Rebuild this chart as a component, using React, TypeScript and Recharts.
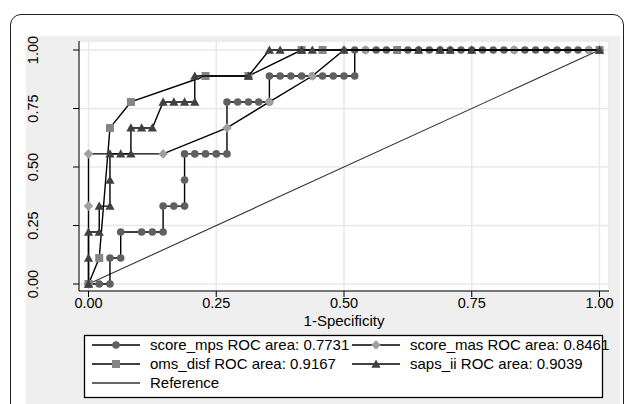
import React from 'react';
import { ScatterChart, Scatter, XAxis, YAxis, CartesianGrid } from 'recharts';

// [1-specificity, sensitivity] pairs per classifier
const mpsPoints = [
  [0, 0], [0.021, 0], [0.042, 0], [0.042, 0.111], [0.063, 0.111], [0.063, 0.222],
  [0.104, 0.222], [0.125, 0.222], [0.146, 0.222], [0.146, 0.333], [0.167, 0.333],
  [0.188, 0.333], [0.188, 0.444], [0.188, 0.556], [0.208, 0.556], [0.229, 0.556],
  [0.25, 0.556], [0.271, 0.556], [0.271, 0.778], [0.292, 0.778], [0.313, 0.778],
  [0.333, 0.778], [0.354, 0.778], [0.354, 0.889], [0.375, 0.889], [0.396, 0.889],
  [0.417, 0.889], [0.438, 0.889], [0.458, 0.889], [0.479, 0.889], [0.5, 0.889],
  [0.521, 0.889], [0.521, 1], [0.542, 1], [0.563, 1], [0.583, 1], [0.604, 1],
  [0.625, 1], [0.646, 1], [0.667, 1], [0.688, 1], [0.708, 1], [0.729, 1], [0.75, 1],
  [0.771, 1], [0.792, 1], [0.813, 1], [0.833, 1], [0.854, 1], [0.875, 1], [0.896, 1],
  [0.917, 1], [0.938, 1], [0.958, 1], [0.979, 1], [1, 1],
];

const masPoints = [
  [0, 0], [0, 0.333], [0, 0.556], [0.146, 0.556], [0.271, 0.667], [0.354, 0.778],
  [0.438, 0.889], [0.5, 1], [0.542, 1], [0.833, 1], [0.979, 1], [1, 1],
];

const omsPoints = [
  [0, 0], [0.021, 0.111], [0.042, 0.667], [0.083, 0.778], [0.229, 0.889],
  [0.313, 0.889], [0.417, 1], [0.458, 1], [0.604, 1], [1, 1],
];

const sapsPoints = [
  [0, 0], [0, 0.111], [0, 0.222], [0.021, 0.222], [0.021, 0.333], [0.042, 0.333],
  [0.042, 0.444], [0.042, 0.556], [0.063, 0.556], [0.083, 0.556], [0.083, 0.667],
  [0.104, 0.667], [0.125, 0.667], [0.146, 0.778], [0.167, 0.778], [0.188, 0.778],
  [0.208, 0.778], [0.208, 0.889], [0.313, 0.889], [0.354, 1], [0.375, 1], [0.417, 1],
  [0.438, 1], [0.5, 1], [0.646, 1], [0.688, 1], [0.708, 1], [0.75, 1], [1, 1],
];

const referencePoints = [[0, 0], [1, 1]];

const axisTicks = [0, 0.25, 0.5, 0.75, 1];
const tickLabels = ['0.00', '0.25', '0.50', '0.75', '1.00'];

const legendLabels = [
  'score_mps ROC area: 0.7731',
  'score_mas ROC area: 0.8461',
  'oms_disf ROC area: 0.9167',
  'saps_ii ROC area: 0.9039',
  'Reference',
];

const toXY = (pts: number[][]) => pts.map(([x, y]) => ({ x, y }));

const FONT = '"Liberation Sans", Arial, Helvetica, sans-serif';

const COLORS = {
  mps: '#606060',
  mas: '#a0a0a0',
  oms: '#858585',
  saps: '#404040',
};

type Kind = 'circle' | 'diamond' | 'square' | 'triangle';

const marker = (kind: Kind, cx: number, cy: number, fill: string, key?: string) => {
  if (kind === 'circle') return <circle key={key} cx={cx} cy={cy} r={3.8} fill={fill} />;
  if (kind === 'diamond') {
    const r = 4.8;
    return <polygon key={key} points={`${cx},${cy - r} ${cx + r},${cy} ${cx},${cy + r} ${cx - r},${cy}`} fill={fill} />;
  }
  if (kind === 'square') return <rect key={key} x={cx - 4} y={cy - 4} width={8} height={8} fill={fill} />;
  const s = 4.6;
  return <polygon key={key} points={`${cx},${cy - s} ${cx + s},${cy + s * 0.8} ${cx - s},${cy + s * 0.8}`} fill={fill} />;
};

const shapeOf = (kind: Kind, fill: string) => (props: any) => marker(kind, props.cx, props.cy, fill);

const YTick = (props: any) => {
  const { x, y, payload } = props;
  const i = axisTicks.indexOf(payload.value);
  return (
    <text x={x} y={y} transform={`rotate(-90 ${x} ${y})`} textAnchor="middle" fontSize={14.5} fontFamily={FONT} fill="#000">
      {tickLabels[i]}
    </text>
  );
};

const XTick = (props: any) => {
  const { x, y, payload } = props;
  const i = axisTicks.indexOf(payload.value);
  return (
    <text x={x} y={y} dy="0.71em" textAnchor="middle" fontSize={14.5} fontFamily={FONT} fill="#000">
      {tickLabels[i]}
    </text>
  );
};

const LegendBox = () => {
  const rows = [
    { col: 0, row: 0, kind: 'circle' as Kind, color: COLORS.mps, label: legendLabels[0] },
    { col: 1, row: 0, kind: 'diamond' as Kind, color: COLORS.mas, label: legendLabels[1] },
    { col: 0, row: 1, kind: 'square' as Kind, color: COLORS.oms, label: legendLabels[2] },
    { col: 1, row: 1, kind: 'triangle' as Kind, color: COLORS.saps, label: legendLabels[3] },
    { col: 0, row: 2, kind: null, color: '#333', label: legendLabels[4] },
  ];
  return (
    <svg width={628} height={70} style={{ position: 'absolute', left: 0, top: 334, overflow: 'visible' }}>
      <rect x={84.5} y={1.5} width={518} height={62} fill="#fff" stroke="#000" strokeWidth={1.3} />
      {rows.map((r, i) => {
        const x0 = r.col === 0 ? 92 : 352;
        const cy = 11 + r.row * 19;
        return (
          <g key={i}>
            <line x1={x0} x2={x0 + 48} y1={cy} y2={cy} stroke={r.kind ? '#000' : '#333'} strokeWidth={1.3} />
            {r.kind && marker(r.kind, x0 + 24, cy, r.color)}
            <text x={x0 + 58} y={cy + 5.3} fontSize={15} fontFamily={FONT} fill="#000">{r.label}</text>
          </g>
        );
      })}
    </svg>
  );
};

export default function App() {
  return (
    <div style={{ position: 'absolute', left: 0, top: 0, width: 628, height: 404, overflow: 'hidden', background: '#fff' }}>
      <div style={{ position: 'absolute', left: 10, top: 14, width: 612, height: 420, border: '1.5px solid #222', borderRadius: 11 }} />
      <div style={{ position: 'absolute', left: 26, top: 36, width: 594, height: 368, background: '#efefef' }} />
      <div style={{ position: 'absolute', left: 79, top: 41, width: 530, height: 250, background: '#fff' }} />
      <div style={{ position: 'absolute', left: 0, top: 0 }}>
        <ScatterChart width={628} height={404} margin={{ top: 41, right: 19, bottom: 83, left: 29 }}>
          <CartesianGrid stroke="#e8e8e8" strokeWidth={1.5} />
          <XAxis
            type="number"
            dataKey="x"
            domain={[-0.0186, 1.0186]}
            ticks={axisTicks}
            allowDataOverflow
            height={30}
            tickSize={6}
            tickMargin={1}
            stroke="#000"
            tick={<XTick />}
            label={{ value: '1-Specificity', position: 'insideBottom', offset: -5, fontSize: 15, fontFamily: FONT, fill: '#000' }}
          />
          <YAxis
            type="number"
            dataKey="y"
            domain={[-0.0299, 1.0385]}
            ticks={axisTicks}
            allowDataOverflow
            width={50}
            tickSize={6}
            tickMargin={35}
            stroke="#000"
            tick={<YTick />}
          />
          <Scatter data={toXY(referencePoints)} fill="#333" line={{ stroke: '#333', strokeWidth: 1.1 }} shape={() => <g />} isAnimationActive={false} />
          <Scatter data={toXY(mpsPoints)} fill={COLORS.mps} line={{ stroke: '#000', strokeWidth: 1.4 }} shape={shapeOf('circle', COLORS.mps)} isAnimationActive={false} />
          <Scatter data={toXY(masPoints)} fill={COLORS.mas} line={{ stroke: '#000', strokeWidth: 1.4 }} shape={shapeOf('diamond', COLORS.mas)} isAnimationActive={false} />
          <Scatter data={toXY(omsPoints)} fill={COLORS.oms} line={{ stroke: '#000', strokeWidth: 1.4 }} shape={shapeOf('square', COLORS.oms)} isAnimationActive={false} />
          <Scatter data={toXY(sapsPoints)} fill={COLORS.saps} line={{ stroke: '#000', strokeWidth: 1.4 }} shape={shapeOf('triangle', COLORS.saps)} isAnimationActive={false} />
        </ScatterChart>
      </div>
      <LegendBox />
    </div>
  );
}
